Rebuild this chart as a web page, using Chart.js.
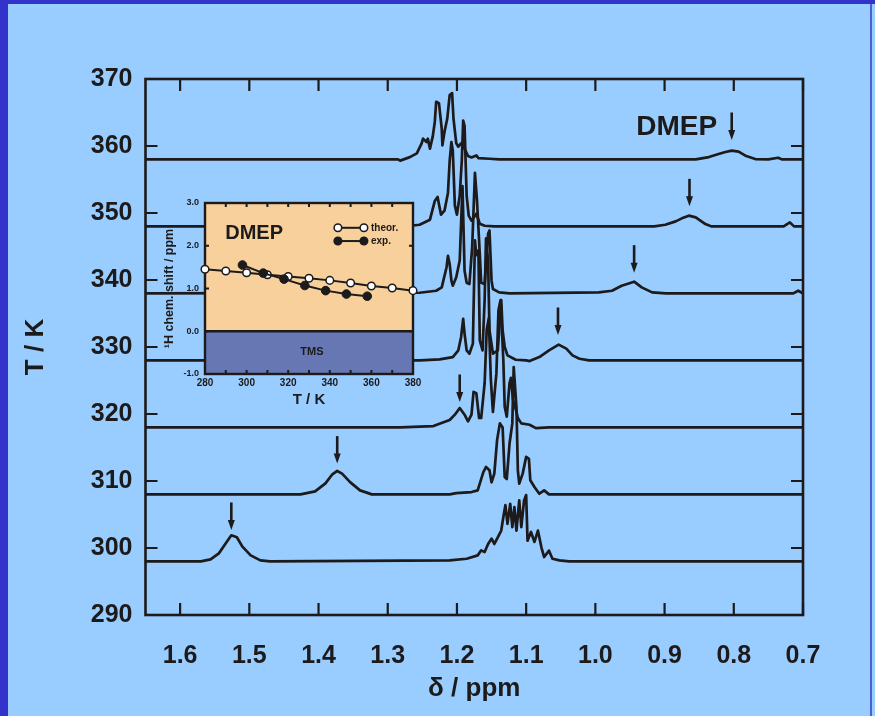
<!DOCTYPE html>
<html><head><meta charset="utf-8">
<script src="https://cdn.jsdelivr.net/npm/chart.js@4.4.1/dist/chart.umd.min.js"></script>
<style>
html,body{margin:0;padding:0;}
body{width:875px;height:716px;background:#99ccff;position:relative;overflow:hidden;}
#main{position:absolute;left:0;top:0;width:875px;height:716px;}
#inset{position:absolute;left:150px;top:188px;width:280px;height:230px;}
.edgeL{position:absolute;left:0;top:0;width:8px;height:716px;background:#3333cc;}
.edgeT{position:absolute;left:0;top:0;width:875px;height:4px;background:#3333cc;}
.edgeR{position:absolute;left:870px;top:4px;width:2px;height:712px;background:#4a5fd0;}
</style></head><body>
<div class="edgeL"></div><div class="edgeT"></div><div class="edgeR"></div>
<canvas id="main" width="875" height="716"></canvas>
<canvas id="inset" width="280" height="230"></canvas>
<script>
// ---------------- data ----------------
const temperatures = [300, 310, 320, 330, 340, 350, 360];
const baselines = [298, 308, 318, 328, 338, 348, 358];

const ppm300 = [1.65,1.570,1.556,1.544,1.534,1.526,1.518,1.510,1.498,1.484,1.470,1.2105,1.186,1.170,1.165,1.160,1.155,1.150,1.146,1.141,1.136,1.133,1.130,1.127,1.123,1.120,1.117,1.114,1.110,1.107,1.103,1.100,1.098,1.093,1.088,1.083,1.078,1.074,1.067,1.062,1.052,1.038,0.70];
const int300 = [0,0,0.3,1.2,2.7,3.9,3.6,2.2,0.9,0.15,0,0.15,0.4,0.9,1.65,1.4,2.6,3.4,2.6,3.6,4.6,6.6,8.4,5.6,8.6,5.1,8.1,4.6,9.1,5.1,9.1,9.9,3.1,4.4,2.9,4.6,2.1,0.65,1.6,0.4,0.15,0,0];

const ppm310 = [1.65,1.426,1.405,1.390,1.380,1.373,1.366,1.354,1.340,1.323,1.2105,1.201,1.179,1.170,1.162,1.158,1.153,1.150,1.146,1.142,1.138,1.134,1.131,1.128,1.124,1.120,1.118,1.114,1.112,1.110,1.105,1.100,1.096,1.094,1.088,1.081,1.074,1.067,0.70];
const int310 = [0,0,0.45,1.65,3.0,3.5,3.1,1.8,0.6,0,0,0.2,0.35,0.6,3.3,4.1,3.6,1.8,3.1,8.1,10.6,10.0,2.6,2.3,7.6,10.6,19.0,13.0,3.6,1.6,3.1,5.6,5.3,2.1,1.1,0.1,0.6,0,0];

const ppm320 = [1.65,1.282,1.234,1.2105,1.203,1.196,1.189,1.184,1.179,1.176,1.172,1.168,1.165,1.160,1.157,1.154,1.151,1.148,1.143,1.140,1.137,1.133,1.131,1.128,1.124,1.122,1.119,1.114,1.112,1.107,1.095,1.086,1.067,0.70];
const int320 = [0,0,0.2,1.1,1.9,2.9,1.9,0.9,1.9,5.3,5.1,1.4,1.4,6.6,14.6,16.3,7.1,2.3,8.1,17.5,19.0,10.1,3.1,1.6,6.6,7.4,4.1,2.3,1.4,0.6,0.4,-0.1,0,0];

const ppm330 = [1.65,1.254,1.225,1.206,1.198,1.194,1.191,1.189,1.186,1.182,1.177,1.174,1.172,1.169,1.167,1.163,1.160,1.158,1.155,1.153,1.148,1.141,1.138,1.136,1.134,1.131,1.127,1.115,1.100,1.095,1.081,1.067,1.053,1.042,1.033,1.023,1.009,0.70];
const int330 = [0,0,0.15,0.5,1.5,3.5,6.2,4.0,1.5,1.0,2.5,17.9,15.7,16.4,3.0,1.5,9.0,18.2,14.9,4.5,1.0,1.5,6.0,9.0,4.5,2.0,0.75,0.1,0,-0.1,0.5,1.5,2.35,1.75,0.75,0.25,0,0];

const ppm340 = [1.65,1.254,1.230,1.222,1.215,1.213,1.2105,1.208,1.206,1.201,1.196,1.192,1.189,1.186,1.182,1.178,1.174,1.171,1.167,1.165,1.160,1.155,1.153,1.150,1.148,1.139,1.124,0.995,0.976,0.962,0.944,0.933,0.918,0.898,0.714,0.707,0.70];
const int340 = [0,0.1,0.4,0.9,3.9,5.6,4.4,1.9,1.15,2.4,4.9,16.0,3.4,1.6,1.4,6.9,18.0,13.8,5.9,1.6,1.4,8.9,9.4,1.9,0.65,0.15,0,0.15,0.4,1.15,1.75,0.9,0.15,0,0,0.4,0];

const ppm350 = [1.65,1.275,1.254,1.239,1.232,1.228,1.223,1.218,1.213,1.2105,1.208,1.206,1.203,1.200,1.196,1.193,1.191,1.189,1.186,1.183,1.179,1.172,1.167,1.160,1.146,0.915,0.899,0.884,0.875,0.865,0.855,0.841,0.832,0.728,0.719,0.713,0.70];
const int350 = [0,0,0.25,1.0,3.8,4.4,1.75,2.35,5.0,9.8,12.6,11.3,3.1,1.75,4.6,9.8,15.8,15.0,4.6,1.6,0.85,1.9,0.4,0.1,0,0,0.25,0.75,1.2,1.6,1.35,0.35,0,0,0.6,0,0];

const ppm360 = [1.65,1.285,1.282,1.268,1.258,1.251,1.249,1.244,1.242,1.239,1.235,1.232,1.230,1.226,1.222,1.221,1.218,1.214,1.2105,1.207,1.205,1.201,1.198,1.194,1.189,1.184,1.179,1.172,1.169,1.153,1.139,0.855,0.836,0.822,0.812,0.803,0.793,0.782,0.769,0.750,0.736,0.730,0.70];
const int360 = [0,0,-0.18,0.34,0.9,2.4,3.1,2.6,3.1,1.6,3.4,5.6,8.6,8.4,4.6,2.1,4.1,6.1,9.6,9.9,6.1,2.4,1.9,2.4,1.6,0.5,0.3,0.6,0.2,0.1,0,0,0.35,0.8,1.1,1.3,1.15,0.5,0.05,0,0.25,0,0];

const arrowPpm = [1.526, 1.373, 1.196, 1.054, 0.944, 0.864, 0.803];
const arrowTip = [302.7, 312.6, 321.8, 331.8, 341.1, 351.0, 360.9];
const arrowTop = [306.8, 316.7, 325.9, 335.9, 345.2, 355.1, 365.0];

const xTickValues = [1.6, 1.5, 1.4, 1.3, 1.2, 1.1, 1.0, 0.9, 0.8, 0.7];
const yTickValues = [290, 300, 310, 320, 330, 340, 350, 360, 370];

// inset
const insetTheorT = [280, 290, 300, 310, 320, 330, 340, 350, 360, 370, 380];
const insetTheor = [1.45, 1.41, 1.37, 1.32, 1.28, 1.24, 1.19, 1.13, 1.06, 1.01, 0.95];
const insetExpT = [298, 308, 318, 328, 338, 348, 358];
const insetExp = [1.55, 1.36, 1.22, 1.07, 0.95, 0.87, 0.82];
const insetTickMarksT = [280, 290, 300, 310, 320, 330, 340, 350, 360, 370, 380];
const insetTickMarksY = [-1, 0, 1, 2, 3];

// ---------------- style ----------------
const INK = '#1c1a1a';
const FONT = "'Liberation Sans', Arial, sans-serif";

const spectraPpm = [ppm300, ppm310, ppm320, ppm330, ppm340, ppm350, ppm360];
const spectraInt = [int300, int310, int320, int330, int340, int350, int360];

const datasets = temperatures.map((t, i) => ({
  label: t + ' K',
  data: spectraPpm[i].map((p, j) => ({x: p, y: baselines[i] + spectraInt[i][j]})),
  showLine: true, borderColor: INK, borderWidth: 2.7, pointRadius: 0, tension: 0,
  borderJoinStyle: 'round'
}));

const mainDeco = {
  id: 'mainDeco',
  afterDatasetsDraw(chart) {
    const {ctx, chartArea: a, scales: {x, y}} = chart;
    ctx.save();
    ctx.strokeStyle = INK; ctx.fillStyle = INK;
    ctx.lineWidth = 2.2;
    ctx.beginPath();
    xTickValues.forEach(v => {
      const px = x.getPixelForValue(v);
      ctx.moveTo(px, a.bottom); ctx.lineTo(px, a.bottom - 12);
      ctx.moveTo(px, a.top); ctx.lineTo(px, a.top + 12);
    });
    yTickValues.forEach(v => {
      const py = y.getPixelForValue(v);
      ctx.moveTo(a.left, py); ctx.lineTo(a.left + 12, py);
      ctx.moveTo(a.right, py); ctx.lineTo(a.right - 12, py);
    });
    ctx.stroke();
    ctx.lineWidth = 2.6;
    ctx.strokeRect(a.left, a.top, a.width, a.height);
    ctx.lineWidth = 2.6;
    arrowPpm.forEach((p, i) => {
      const px = x.getPixelForValue(p);
      const y1 = y.getPixelForValue(arrowTop[i]);
      const y2 = y.getPixelForValue(arrowTip[i]);
      ctx.beginPath(); ctx.moveTo(px, y1); ctx.lineTo(px, y2 - 7); ctx.stroke();
      ctx.beginPath(); ctx.moveTo(px - 3.5, y2 - 10); ctx.lineTo(px + 3.5, y2 - 10); ctx.lineTo(px, y2); ctx.closePath(); ctx.fill();
    });
    ctx.font = 'bold 28px ' + FONT;
    ctx.textAlign = 'center'; ctx.textBaseline = 'middle';
    ctx.fillText('DMEP', x.getPixelForValue(0.8825), y.getPixelForValue(362.8));
    ctx.restore();
  }
};

new Chart(document.getElementById('main'), {
  type: 'scatter',
  data: {datasets},
  options: {
    responsive: false, animation: false, devicePixelRatio: 1,
    layout: {padding: {left: 0, top: 79, right: 72, bottom: 0}},
    plugins: {legend: {display: false}, tooltip: {enabled: false}},
    scales: {
      x: {
        type: 'linear', reverse: true, min: 0.70, max: 1.65,
        afterBuildTicks: s => { s.ticks = xTickValues.map(v => ({value: v})); },
        afterFit: s => { s.height = 101; },
        grid: {display: false, drawTicks: false},
        border: {display: false},
        ticks: {color: INK, font: {family: FONT, size: 25, weight: 'bold'}, padding: 26,
                callback: v => Number(v).toFixed(1), maxRotation: 0, autoSkip: false},
        title: {display: true, text: 'δ / ppm', color: INK, font: {family: FONT, size: 26, weight: 'bold'},
                padding: {top: 0, bottom: 12}}
      },
      y: {
        type: 'linear', min: 290, max: 370,
        afterBuildTicks: s => { s.ticks = yTickValues.map(v => ({value: v})); },
        afterFit: s => { s.width = 145.5; },
        grid: {display: false, drawTicks: false},
        border: {display: false},
        ticks: {color: INK, font: {family: FONT, size: 25, weight: 'bold'}, padding: 13},
        title: {display: true, text: 'T / K', color: INK, font: {family: FONT, size: 26, weight: 'bold'},
                padding: {top: 20, bottom: 0}}
      }
    }
  },
  plugins: [mainDeco]
});

// ---------------- inset ----------------
const insetDeco = {
  id: 'insetDeco',
  beforeDatasetsDraw(chart) {
    const {ctx, chartArea: a, scales: {x, y}} = chart;
    ctx.save();
    const y0 = y.getPixelForValue(0);
    ctx.fillStyle = '#f7d09b';
    ctx.fillRect(a.left, a.top, a.width, y0 - a.top);
    ctx.fillStyle = '#6677b4';
    ctx.fillRect(a.left, y0, a.width, a.bottom - y0);
    ctx.fillStyle = INK;
    ctx.font = 'bold 11px ' + FONT;
    ctx.textAlign = 'center'; ctx.textBaseline = 'middle';
    ctx.fillText('TMS', x.getPixelForValue(331.4), y.getPixelForValue(-0.49));
    ctx.font = 'bold 20px ' + FONT;
    ctx.fillText('DMEP', x.getPixelForValue(303.6), y.getPixelForValue(2.29));
    ctx.strokeStyle = INK; ctx.lineWidth = 2.4;
    ctx.beginPath(); ctx.moveTo(a.left, y0); ctx.lineTo(a.right, y0); ctx.stroke();
    ctx.lineWidth = 2;
    ctx.beginPath();
    insetTickMarksT.forEach(v => {
      const px = x.getPixelForValue(v);
      ctx.moveTo(px, a.bottom); ctx.lineTo(px, a.bottom - 4);
      ctx.moveTo(px, a.top); ctx.lineTo(px, a.top + 4);
    });
    insetTickMarksY.forEach(v => {
      const py = y.getPixelForValue(v);
      ctx.moveTo(a.left, py); ctx.lineTo(a.left + 4, py);
      ctx.moveTo(a.right, py); ctx.lineTo(a.right - 4, py);
    });
    ctx.stroke();
    ctx.lineWidth = 2.4;
    ctx.strokeRect(a.left, a.top, a.width, a.height);
    const rows = [{y: 2.42, fill: '#ffffff', text: 'theor.'}, {y: 2.11, fill: INK, text: 'exp.'}];
    const lx1 = x.getPixelForValue(343.9), lx2 = x.getPixelForValue(356.4), tx = x.getPixelForValue(359.8);
    ctx.font = 'bold 10px ' + FONT; ctx.textAlign = 'left';
    rows.forEach(r => {
      const py = y.getPixelForValue(r.y);
      ctx.lineWidth = 2; ctx.strokeStyle = INK;
      ctx.beginPath(); ctx.moveTo(lx1, py); ctx.lineTo(lx2, py); ctx.stroke();
      [lx1, lx2].forEach(px => {
        ctx.beginPath(); ctx.arc(px, py, 3.8, 0, Math.PI * 2);
        ctx.fillStyle = r.fill; ctx.fill(); ctx.lineWidth = 1.5; ctx.stroke();
      });
      ctx.fillStyle = INK;
      ctx.fillText(r.text, tx, py);
    });
    ctx.restore();
  }
};

new Chart(document.getElementById('inset'), {
  type: 'scatter',
  data: {
    datasets: [
      {label: 'exp.', data: insetExpT.map((t, i) => ({x: t, y: insetExp[i]})), showLine: true, clip: false,
       borderColor: INK, borderWidth: 2, backgroundColor: INK, pointRadius: 4.3, pointBorderWidth: 1, tension: 0},
      {label: 'theor.', data: insetTheorT.map((t, i) => ({x: t, y: insetTheor[i]})), showLine: true, clip: false,
       borderColor: INK, borderWidth: 2, backgroundColor: '#ffffff', pointRadius: 3.8, pointBorderWidth: 1.5, tension: 0}
    ]
  },
  options: {
    responsive: false, animation: false, devicePixelRatio: 1,
    layout: {padding: {left: 0, top: 15, right: 17, bottom: 0}},
    plugins: {legend: {display: false}, tooltip: {enabled: false}},
    scales: {
      x: {
        type: 'linear', min: 280, max: 380,
        afterFit: s => { s.height = 44; },
        grid: {display: false, drawTicks: false}, border: {display: false},
        ticks: {stepSize: 20, color: INK, font: {family: FONT, size: 10, weight: 'bold'}, padding: 3, maxRotation: 0},
        title: {display: true, text: 'T / K', color: INK, font: {family: FONT, size: 15, weight: 'bold'}, padding: {top: 0, bottom: 9}}
      },
      y: {
        type: 'linear', min: -1, max: 3,
        afterFit: s => { s.width = 55; },
        grid: {display: false, drawTicks: false}, border: {display: false},
        ticks: {stepSize: 1, color: INK, font: {family: FONT, size: 9, weight: 'bold'}, padding: 6,
                callback: v => Number(v).toFixed(1)},
        title: {display: true, text: '¹H chem. shift / ppm', color: INK, font: {family: FONT, size: 12.5, weight: 'bold'}, padding: {top: 12, bottom: 0}}
      }
    }
  },
  plugins: [insetDeco]
});
</script>
</body></html>
